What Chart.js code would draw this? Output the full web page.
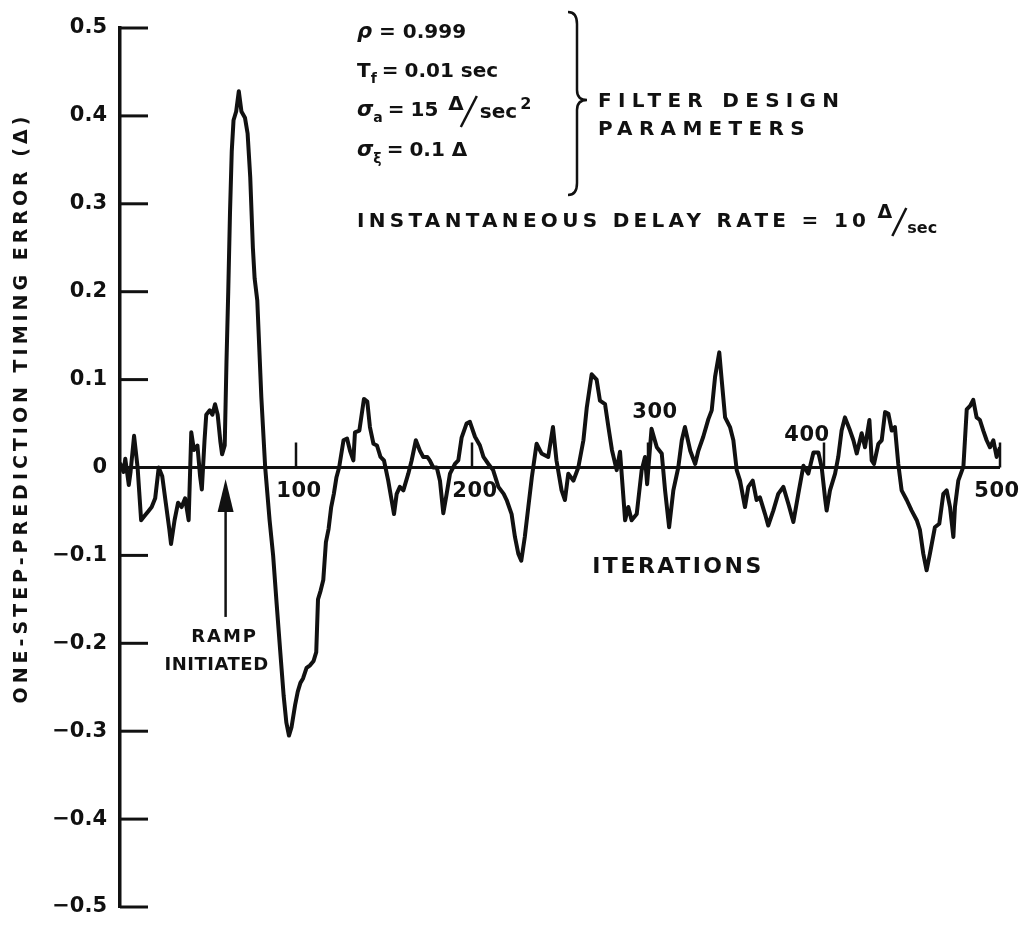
<!DOCTYPE html>
<html>
<head>
<meta charset="utf-8">
<script src="https://cdn.jsdelivr.net/npm/chart.js@4.4.0/dist/chart.umd.min.js"></script>
<style>
  html, body { margin: 0; padding: 0; background: #fff; }
</style>
</head>
<body>
<canvas id="errChart" width="1029" height="927"></canvas>
<script>
// iteration number and one-step-prediction timing error (in Δ)
const iterations = [
  0, 2, 3, 5, 6, 8, 10, 12, 14, 16, 18, 20, 22, 24, 26, 28, 29, 31, 33, 35, 37, 39,
  40.5, 42, 44, 45.5, 46.5, 48, 49, 51, 52.5, 54, 55.5, 57, 58, 59.5,
  60.5, 61.5, 62.5, 63.5, 64.5, 66, 67.5, 69, 71, 72.5, 74, 75.5, 76.5, 78, 80.3, 82.5,
  85, 87, 89, 91, 93, 94.5, 96, 97.5, 99.5, 101, 102.5, 104, 106, 108, 110, 111.5,
  112.5, 114, 115.5, 117, 118.5, 120, 121.5, 123, 124.5, 127, 129, 130.7, 132.6,
  133.5, 136, 138.6, 140.5, 142, 144, 146, 148, 150, 152.4, 154.3, 155.7, 157.2,
  159, 161, 163.8, 165.7, 168.1, 170.4, 172.3, 174.6, 176, 178, 180, 181.8, 183.7,
  185.6, 187.5, 190.3, 192.2, 194.1, 196.9, 198.8, 201.7, 204.5, 206.5, 209.3,
  212, 215, 218, 219.7, 222.5, 224.4, 226.3, 228, 230, 232, 234, 236.7, 239.5,
  243.3, 246, 248, 250.9, 252.8, 254.7, 257.6, 260.4, 263.3, 265.2, 268, 270.8,
  272.7, 275.6, 277.5, 279.5, 282.2, 284.1, 287, 288.8, 290.7, 293.6, 296.4,
  298.3, 299.5, 302, 305, 307.8, 309.7, 312, 314.4, 317.2, 319.2, 321, 324,
  326.8, 328.6, 331.4, 334.3, 336.2, 338.1, 340.5, 341.9, 343.8, 346.6, 348.5,
  350.4, 352.3, 355.1, 357, 359.5, 361.7, 363.6, 366.5, 368.3, 371.2, 374,
  376.9, 379.7, 382.6, 385.4, 388.3, 391.1, 394, 396.8, 398.7, 400.6, 401.5,
  403.4, 406.3, 408.1, 410, 411.9, 414.8, 416.7, 418.6, 421.4, 423.3, 425.8,
  427.1, 428.4, 430.9, 432.8, 434.7, 436.6, 438.5, 440.3, 442.2, 444.1, 447,
  449.8, 452.7, 454.5, 456.4, 458.3, 460.2, 463, 465.5, 467.8, 469.7, 471.6,
  473.5, 474.4, 476.3, 479.2, 481.1, 483, 484.8, 486.7, 488.6, 490.5, 492.4,
  494.3, 496.2, 498.1, 500
];
const timingError = [
  0.005, -0.005, 0.01, -0.02, -0.005, 0.036, 0.0, -0.06, -0.055, -0.05, -0.045, -0.035, 0.0, -0.01, -0.04, -0.07, -0.087, -0.06, -0.04, -0.045, -0.035, -0.06,
  0.04, 0.02, 0.025, -0.01, -0.025, 0.03, 0.06, 0.065, 0.06, 0.072, 0.06, 0.03, 0.015, 0.025,
  0.12, 0.2, 0.29, 0.36, 0.395, 0.405, 0.428, 0.405, 0.398, 0.38, 0.33, 0.25, 0.215, 0.19, 0.08, 0.0,
  -0.06, -0.1, -0.155, -0.208, -0.26, -0.29, -0.305, -0.295, -0.27, -0.255, -0.245, -0.24, -0.228, -0.225, -0.22, -0.21,
  -0.15, -0.14, -0.128, -0.085, -0.07, -0.045, -0.03, -0.011, 0.0, 0.031, 0.033, 0.019, 0.008,
  0.04, 0.042, 0.078, 0.075, 0.046, 0.027, 0.025, 0.012, 0.008, -0.015, -0.037, -0.053, -0.03,
  -0.022, -0.026, -0.007, 0.008, 0.031, 0.019, 0.012, 0.012, 0.008, 0.0, 0.0, -0.015, -0.052,
  -0.03, -0.007, 0.004, 0.008, 0.034, 0.05, 0.052, 0.035, 0.025, 0.012, 0.004,
  -0.003, -0.022, -0.03, -0.037, -0.053, -0.079, -0.098, -0.106, -0.079, -0.045, -0.011, 0.027, 0.016,
  0.012, 0.046, 0.008, -0.026, -0.037, -0.007, -0.015, 0.0, 0.031, 0.068, 0.106, 0.1,
  0.076, 0.072, 0.046, 0.02, -0.003, 0.018, -0.06, -0.045, -0.06, -0.053, -0.003,
  0.012, -0.019, 0.044, 0.023, 0.016, -0.026, -0.068, -0.026, 0.0, 0.031, 0.046, 0.019,
  0.004, 0.019, 0.035, 0.055, 0.065, 0.103, 0.131, 0.099, 0.057, 0.046, 0.031,
  -0.003, -0.015, -0.045, -0.022, -0.015, -0.037, -0.034, -0.053, -0.066, -0.049, -0.03,
  -0.022, -0.041, -0.062, -0.03, 0.002, -0.007, 0.017, 0.017, 0.0, -0.035, -0.049,
  -0.026, -0.007, 0.012, 0.042, 0.057, 0.042, 0.031, 0.016, 0.039, 0.023, 0.054,
  0.008, 0.004, 0.027, 0.031, 0.063, 0.061, 0.042, 0.046, 0.004, -0.026, -0.037,
  -0.049, -0.06, -0.071, -0.098, -0.117, -0.098, -0.068, -0.064, -0.03, -0.026, -0.045,
  -0.079, -0.045, -0.015, 0.001, 0.066, 0.07, 0.077, 0.057, 0.054, 0.042, 0.031,
  0.023, 0.031, 0.012, 0.023
];
const xTickValues = [100, 200, 300, 400, 500];
const rampIteration = 60;

const ink = '#111';
const FONT = '"DejaVu Sans", "Liberation Sans", sans-serif';

function spaced(ctx, text, x, y, sp) {
  ctx.letterSpacing = sp + 'px';
  ctx.fillText(text, x, y);
  ctx.letterSpacing = '0px';
}

// draw a sequence of text pieces (main / sub / sup) left to right
function runs(ctx, parts, x, y) {
  ctx.textAlign = 'left';
  for (const p of parts) {
    ctx.font = p.f;
    ctx.fillText(p.t, x, y + (p.dy || 0));
    x += ctx.measureText(p.t).width + (p.gap || 0);
  }
  return x;
}

const decorations = {
  id: 'decorations',
  afterDraw(chart) {
    const ctx = chart.ctx;
    const xs = chart.scales.x, ys = chart.scales.y;
    const area = chart.chartArea;
    const y0 = ys.getPixelForValue(0);
    ctx.save();
    ctx.strokeStyle = ink;
    ctx.fillStyle = ink;
    ctx.lineCap = 'butt';

    // zero line doubles as the iteration axis
    ctx.lineWidth = 3;
    ctx.beginPath();
    ctx.moveTo(area.left, y0);
    ctx.lineTo(xs.getPixelForValue(500), y0);
    ctx.stroke();

    // y ticks pointing into the plot
    for (const t of ys.ticks) {
      const py = ys.getPixelForValue(t.value);
      ctx.beginPath();
      ctx.moveTo(area.left, py);
      ctx.lineTo(area.left + 28, py);
      ctx.stroke();
    }

    // x ticks pointing up, labels scattered as in the figure
    const labelPlace = { 100: [3, 24], 200: [3, 24], 300: [7, -55], 400: [-17, -32], 500: [-3, 24] };
    ctx.font = 'bold 21px ' + FONT;
    ctx.textAlign = 'center';
    ctx.textBaseline = 'middle';
    for (const v of xTickValues) {
      const px = xs.getPixelForValue(v);
      ctx.lineWidth = 2.5;
      ctx.beginPath();
      ctx.moveTo(px, y0);
      ctx.lineTo(px, y0 - 25);
      ctx.stroke();
      const [dx, dy] = labelPlace[v];
      spaced(ctx, String(v), px + dx, y0 + dy, 0.5);
    }

    // y axis title
    ctx.save();
    ctx.translate(22, 408);
    ctx.rotate(-Math.PI / 2);
    ctx.font = 'bold 19px ' + FONT;
    ctx.textAlign = 'center';
    spaced(ctx, 'ONE-STEP-PREDICTION TIMING ERROR (Δ)', 0, 0, 4);
    ctx.restore();

    // x axis title
    ctx.font = 'bold 22px ' + FONT;
    ctx.textAlign = 'center';
    spaced(ctx, 'ITERATIONS', 678, 567, 2.5);

    // ramp arrow
    const ax = xs.getPixelForValue(rampIteration);
    const tipY = ys.getPixelForValue(-0.013);
    const tailY = ys.getPixelForValue(-0.17);
    ctx.lineWidth = 2.5;
    ctx.beginPath();
    ctx.moveTo(ax, tailY);
    ctx.lineTo(ax, tipY + 20);
    ctx.stroke();
    ctx.beginPath();
    ctx.moveTo(ax, tipY);
    ctx.lineTo(ax - 8, tipY + 33);
    ctx.lineTo(ax + 8, tipY + 33);
    ctx.closePath();
    ctx.fill();
    ctx.font = 'bold 18px ' + FONT;
    spaced(ctx, 'RAMP', ax - 1, 637, 2);
    spaced(ctx, 'INITIATED', ax - 9, 665, 0.5);

    // filter parameters
    ctx.textBaseline = 'middle';
    const m = 'bold 20px ' + FONT, it = 'bold italic 21px ' + FONT, sub = 'bold 14px ' + FONT;
    const x0 = 357;
    runs(ctx, [{ t: 'ρ', f: it, gap: 7 }, { t: '=', f: m, gap: 7 }, { t: '0.999', f: m }], x0, 33);
    runs(ctx, [{ t: 'T', f: m }, { t: 'f', f: sub, dy: 7, gap: 5 }, { t: '=', f: m, gap: 6 }, { t: '0.01 sec', f: m }], x0, 72);
    let nx = runs(ctx, [{ t: 'σ', f: it }, { t: 'a', f: sub, dy: 7, gap: 5 }, { t: '=', f: m, gap: 6 }, { t: '15 ', f: m, gap: 3 }, { t: 'Δ', f: 'bold 20px ' + FONT, dy: -6 }], x0, 111);
    ctx.lineWidth = 2.5;
    ctx.beginPath();
    ctx.moveTo(nx - 3, 127);
    ctx.lineTo(nx + 13, 96);
    ctx.stroke();
    runs(ctx, [{ t: 'sec', f: m, dy: 2, gap: 3 }, { t: '2', f: 'bold 16px ' + FONT, dy: -6 }], nx + 16, 111);
    runs(ctx, [{ t: 'σ', f: it }, { t: 'ξ', f: sub, dy: 8, gap: 5 }, { t: '=', f: m, gap: 6 }, { t: '0.1 Δ', f: m }], x0, 151);

    // curly brace
    const bx = 577, bt = 12, bb = 195, bm = 100;
    ctx.lineWidth = 2.5;
    ctx.beginPath();
    ctx.moveTo(bx - 9, bt);
    ctx.quadraticCurveTo(bx, bt, bx, bt + 12);
    ctx.lineTo(bx, bm - 10);
    ctx.quadraticCurveTo(bx, bm, bx + 10, bm);
    ctx.quadraticCurveTo(bx, bm, bx, bm + 10);
    ctx.lineTo(bx, bb - 12);
    ctx.quadraticCurveTo(bx, bb, bx - 9, bb);
    ctx.stroke();

    ctx.font = 'bold 20px ' + FONT;
    ctx.textAlign = 'left';
    spaced(ctx, 'FILTER DESIGN', 598, 102, 6.3);
    spaced(ctx, 'PARAMETERS', 598, 130, 6.3);

    // delay rate line
    ctx.font = 'bold 20px ' + FONT;
    ctx.letterSpacing = '4.3px';
    ctx.fillText('INSTANTANEOUS DELAY RATE = 10 ', x0, 222);
    let ex = x0 + ctx.measureText('INSTANTANEOUS DELAY RATE = 10 ').width;
    ctx.letterSpacing = '0px';
    ctx.font = 'bold 19px ' + FONT;
    ctx.fillText('Δ', ex - 4, 213);
    ex += ctx.measureText('Δ').width - 2;
    ctx.beginPath();
    ctx.moveTo(ex - 2, 236);
    ctx.lineTo(ex + 12, 208);
    ctx.stroke();
    ctx.font = 'bold 16px ' + FONT;
    ctx.fillText('sec', ex + 13, 229);

    ctx.restore();
  }
};

new Chart(document.getElementById('errChart').getContext('2d'), {
  type: 'line',
  data: {
    datasets: [{
      data: iterations.map((x, i) => ({ x: x, y: timingError[i] })),
      borderColor: ink,
      borderWidth: 4,
      pointRadius: 0,
      tension: 0,
      fill: false,
      borderJoinStyle: 'round'
    }]
  },
  options: {
    responsive: false,
    animation: false,
    layout: { padding: { top: 28, right: 29, bottom: 20, left: 0 } },
    plugins: { legend: { display: false }, tooltip: { enabled: false } },
    scales: {
      x: {
        type: 'linear',
        min: 0,
        max: 500,
        display: false
      },
      y: {
        min: -0.5,
        max: 0.5,
        afterFit: function (scale) { scale.width = 120; },
        // tick marks hidden (drawn inward by the plugin); tickLength only offsets the labels
        grid: { display: false, drawTicks: true, tickLength: 13 },
        border: { color: ink, width: 3.5 },
        ticks: {
          stepSize: 0.1,
          padding: 0,
          color: ink,
          font: { family: FONT, size: 21, weight: 'bold' },
          callback: function (v) {
            if (Math.abs(v) < 1e-9) return '0';
            return v.toFixed(1).replace('-', '−');
          }
        }
      }
    }
  },
  plugins: [decorations]
});
</script>
</body>
</html>
